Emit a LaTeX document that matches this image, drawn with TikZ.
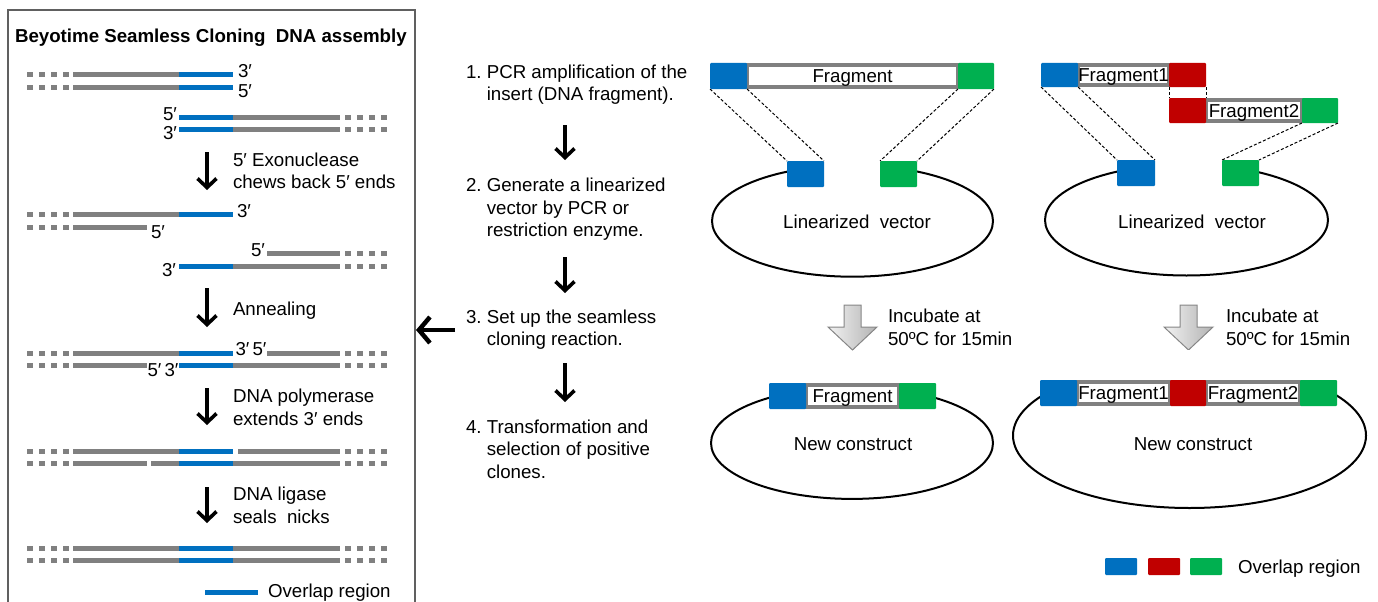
\documentclass[tikz,border=0pt]{standalone}
\usepackage{fontspec}
\setmainfont{Liberation Sans}
\usetikzlibrary{arrows.meta}
\definecolor{oblue}{HTML}{0070C0}
\definecolor{ored}{HTML}{C00000}
\definecolor{ogreen}{HTML}{00B050}
\definecolor{sgray}{HTML}{808080}
\newcommand\tfont{\fontsize{18.7}{22.5}\selectfont}
\begin{document}
\begin{tikzpicture}[x=1pt,y=-1pt,
  every node/.style={font=\tfont, inner sep=0pt, outer sep=0pt},
  strand/.style={line width=5pt, draw=sgray},
  ovl/.style={line width=5pt, draw=oblue},
  dots/.style={line width=5pt, draw=sgray, dash pattern=on 6pt off 6pt},
  darrow/.style={line width=3.6pt, -{Straight Barb[length=9pt,width=19pt,line width=3.6pt]}},
  bigarrow/.style={line width=4.5pt, -{Straight Barb[length=11pt,width=26pt,line width=4.5pt]}},
  boxline/.style={draw=sgray!75!black, line width=1.5pt},
  fbar/.style={draw=sgray, line width=4pt, fill=white},
  sqr/.style={rectangle, rounded corners=1pt, minimum width=37pt, minimum height=26pt},
  dline/.style={line width=1pt, dash pattern=on 3pt off 2pt, black},
  vec/.style={line width=2pt, black},
  barrow/.style={draw=gray!95, line width=1pt, left color=gray!10, right color=gray!60},
  lab/.style={anchor=base west},
  labe/.style={anchor=base east}
]
\useasboundingbox (0,0) rectangle (1378,602);

% ---------------- left panel ----------------
\draw[boxline] (8,610) -- (8,10) -- (415,10) -- (415,610);
\node[lab, font=\tfont\bfseries] (title) at (15,43) {Beyotime Seamless Cloning\ \ DNA assembly};

\foreach \y in {74,87,214,227,353,365,451,463,548,560} \draw[dots] (27,\y) -- (69,\y);
\foreach \y in {117,129,253,266,353,365,451,463,548,560} \draw[dots] (345,\y) -- (388,\y);
\foreach \y in {74,87,214,353,451,548,560} \draw[strand] (73,\y) -- (179,\y);
\foreach \y in {227,365,463} \draw[strand] (73,\y) -- (147,\y);
\draw[strand] (151,463) -- (179,463);
\foreach \y in {117,129,266,365,463,548,560} \draw[strand] (233,\y) -- (340,\y);
\foreach \y in {253,353} \draw[strand] (267,\y) -- (340,\y);
\draw[strand] (238,451) -- (340,451);
\foreach \y in {74,87,117,129,214,266,353,365,451,463,548,560} \draw[ovl] (179,\y) -- (233,\y);

\node[lab] (p1) at (238,77.5) {3′};
\node[lab] (p2) at (238,97.5) {5′};
\node[labe] (p3) at (177,120) {5′};
\node[labe] (p4) at (177,139.5) {3′};
\node[lab] (p5) at (237,217) {3′};
\node[lab] (p6) at (151,238) {5′};
\node[labe] (p7) at (265,256) {5′};
\node[labe] (p8) at (176,276) {3′};
\node[lab] (p9) at (235.5,355) {3′\,5′};
\node[lab] (p10) at (147.5,376) {5′\,3′};

\coordinate (a1s) at (207,152); \coordinate (a1e) at (207,190);
\coordinate (a2s) at (207,288); \coordinate (a2e) at (207,327);
\coordinate (a3s) at (207,388); \coordinate (a3e) at (207,425);
\coordinate (a4s) at (207,487); \coordinate (a4e) at (207,523);
\draw[darrow] (a1s) -- (a1e);
\draw[darrow] (a2s) -- (a2e);
\draw[darrow] (a3s) -- (a3e);
\draw[darrow] (a4s) -- (a4e);

\node[lab] (t1a) at (233,166) {5′ Exonuclease};
\node[lab] (t1b) at (233,188.5) {chews back 5′ ends};
\node[lab] (t2) at (233,315) {Annealing};
\node[lab] (t3a) at (233,402.5) {DNA polymerase};
\node[lab] (t3b) at (233,425) {extends 3′ ends};
\node[lab] (t4a) at (233,500.5) {DNA ligase};
\node[lab] (t4b) at (233,523) {seals\ \ nicks};

\coordinate (lgs) at (205,592); \coordinate (lge) at (258,592);
\draw[ovl] (lgs) -- (lge);
\node[lab] (lgt) at (268,597.5) {Overlap region};

% ---------------- middle steps ----------------
\node[lab] (s1) at (466,78.3) {\begin{tabular}[t]{@{}l@{\ }l@{}}1.&PCR amplification of the\\&insert (DNA fragment).\end{tabular}};
\node[lab] (s2) at (466,191.7) {\begin{tabular}[t]{@{}l@{\ }l@{}}2.&Generate a linearized\\&vector by PCR or\\&restriction enzyme.\end{tabular}};
\node[lab] (s3) at (466,323.3) {\begin{tabular}[t]{@{}l@{\ }l@{}}3.&Set up the seamless\\&cloning reaction.\end{tabular}};
\node[lab] (s4) at (466,433.3) {\begin{tabular}[t]{@{}l@{\ }l@{}}4.&Transformation and\\&selection of positive\\&clones.\end{tabular}};

\coordinate (m1s) at (565,125); \coordinate (m1e) at (565,160);
\coordinate (m2s) at (565,257); \coordinate (m2e) at (565,293);
\coordinate (m3s) at (565,363); \coordinate (m3e) at (565,402);
\draw[darrow] (m1s) -- (m1e);
\draw[darrow] (m2s) -- (m2e);
\draw[darrow] (m3s) -- (m3e);
\coordinate (bls) at (455,330); \coordinate (ble) at (416,330);
\draw[bigarrow] (bls) -- (ble);

% ---------------- top left: single fragment ----------------
\draw[vec] (852.5,221) ellipse [x radius=140.5, y radius=55.7];
\fill[white] (787,150) rectangle (917,182);
\draw[fbar] (747,65) rectangle (958,87);
\node[sqr, fill=oblue] (tb1) at (728.5,76) {};
\node[sqr, fill=ogreen, minimum width=36pt] (tg1) at (976,76) {};
\node[anchor=base] (fr1) at (852.5,82.7) {Fragment};
\node[sqr, fill=oblue] (lb1) at (805.5,174) {};
\node[sqr, fill=ogreen] (lg1) at (898.5,174) {};
\draw[dline] (tb1.south west) -- (lb1.north west);
\draw[dline] (tb1.south east) -- (lb1.north east);
\draw[dline] (tg1.south west) -- (lg1.north west);
\draw[dline] (tg1.south east) -- (lg1.north east);
\node[anchor=base] (lv1) at (857,228.3) {Linearized\ \ vector};

% ---------------- top right: two fragments ----------------
\draw[vec] (1186.5,220) ellipse [x radius=141.5, y radius=55.5];
\fill[white] (1117,150) rectangle (1259,182);
\draw[fbar] (1078,65) rectangle (1169,85);
\draw[fbar] (1206,100) rectangle (1302,121);
\node[sqr, fill=oblue, minimum height=24pt] (rb1) at (1059.5,75) {};
\node[sqr, fill=ored, minimum height=24pt] (rr1) at (1187.5,75) {};
\node[sqr, fill=ored, minimum height=25pt] (rr2) at (1187.5,110.5) {};
\node[sqr, fill=ogreen, minimum width=36pt, minimum height=25pt] (rg2) at (1320,110.5) {};
\draw[dline] (rr1.south west) -- (rr2.north west);
\draw[dline] (rr1.south east) -- (rr2.north east);
\node[anchor=base] (fr2a) at (1123.5,81.7) {Fragment1};
\node[anchor=base] (fr2b) at (1254,117.2) {Fragment2};
\node[sqr, fill=oblue, minimum width=38pt] (lb2) at (1136,173) {};
\node[sqr, fill=ogreen] (lg2) at (1240.5,173) {};
\draw[dline] (rb1.south west) -- (lb2.north west);
\draw[dline] (rb1.south east) -- (lb2.north east);
\draw[dline] (rg2.south west) -- (lg2.north west);
\draw[dline] (rg2.south east) -- (lg2.north east);
\node[anchor=base] (lv2) at (1192,228.3) {Linearized\ \ vector};

% ---------------- incubation arrows ----------------
\draw[barrow] (844,305) -- (861,305) -- (861,327) -- (877,327) -- (852.5,350) -- (828,327) -- (844,327) -- cycle;
\node[lab] (inc1a) at (888,322.3) {Incubate at};
\node[lab] (inc1b) at (888,345) {50ºC for 15min};
\draw[barrow] (1180,305) -- (1197,305) -- (1197,327) -- (1213,327) -- (1188.5,350) -- (1164,327) -- (1180,327) -- cycle;
\node[lab] (inc2a) at (1226,322.3) {Incubate at};
\node[lab] (inc2b) at (1226,345) {50ºC for 15min};

% ---------------- bottom left: new construct ----------------
\draw[vec] (852,443) ellipse [x radius=141, y radius=55.9];
\draw[fbar] (806,385) rectangle (899,407);
\node[sqr, fill=oblue] (cb1) at (787.5,396) {};
\node[sqr, fill=ogreen] (cg1) at (917.5,396) {};
\node[anchor=base] (fr3) at (852.5,402.7) {Fragment};
\node[anchor=base] (nc1) at (853,450.7) {New construct};

% ---------------- bottom right: new construct ----------------
\draw[vec] (1189.5,435.5) ellipse [x radius=176.5, y radius=72.5];
\fill[white] (1039,350) rectangle (1338,382);
\draw[fbar] (1077,382) rectangle (1170,404);
\draw[fbar] (1206,382) rectangle (1300,404);
\node[sqr, fill=oblue] (cb2) at (1058.5,393) {};
\node[sqr, fill=ored, minimum width=36pt] (cr2) at (1188,393) {};
\node[sqr, fill=ogreen] (cg2) at (1318.5,393) {};
\node[anchor=base] (fr4a) at (1123.5,399.7) {Fragment1};
\node[anchor=base] (fr4b) at (1253,399.7) {Fragment2};
\node[anchor=base] (nc2) at (1193,450) {New construct};

% ---------------- legend ----------------
\node[sqr, fill=oblue, minimum width=32pt, minimum height=17pt] (kb) at (1121,566.5) {};
\node[sqr, fill=ored, minimum width=32pt, minimum height=17pt] (kr) at (1164,566.5) {};
\node[sqr, fill=ogreen, minimum width=32pt, minimum height=17pt] (kg) at (1206,566.5) {};
\node[lab] (kt) at (1238,573) {Overlap region};
\end{tikzpicture}
\end{document}
